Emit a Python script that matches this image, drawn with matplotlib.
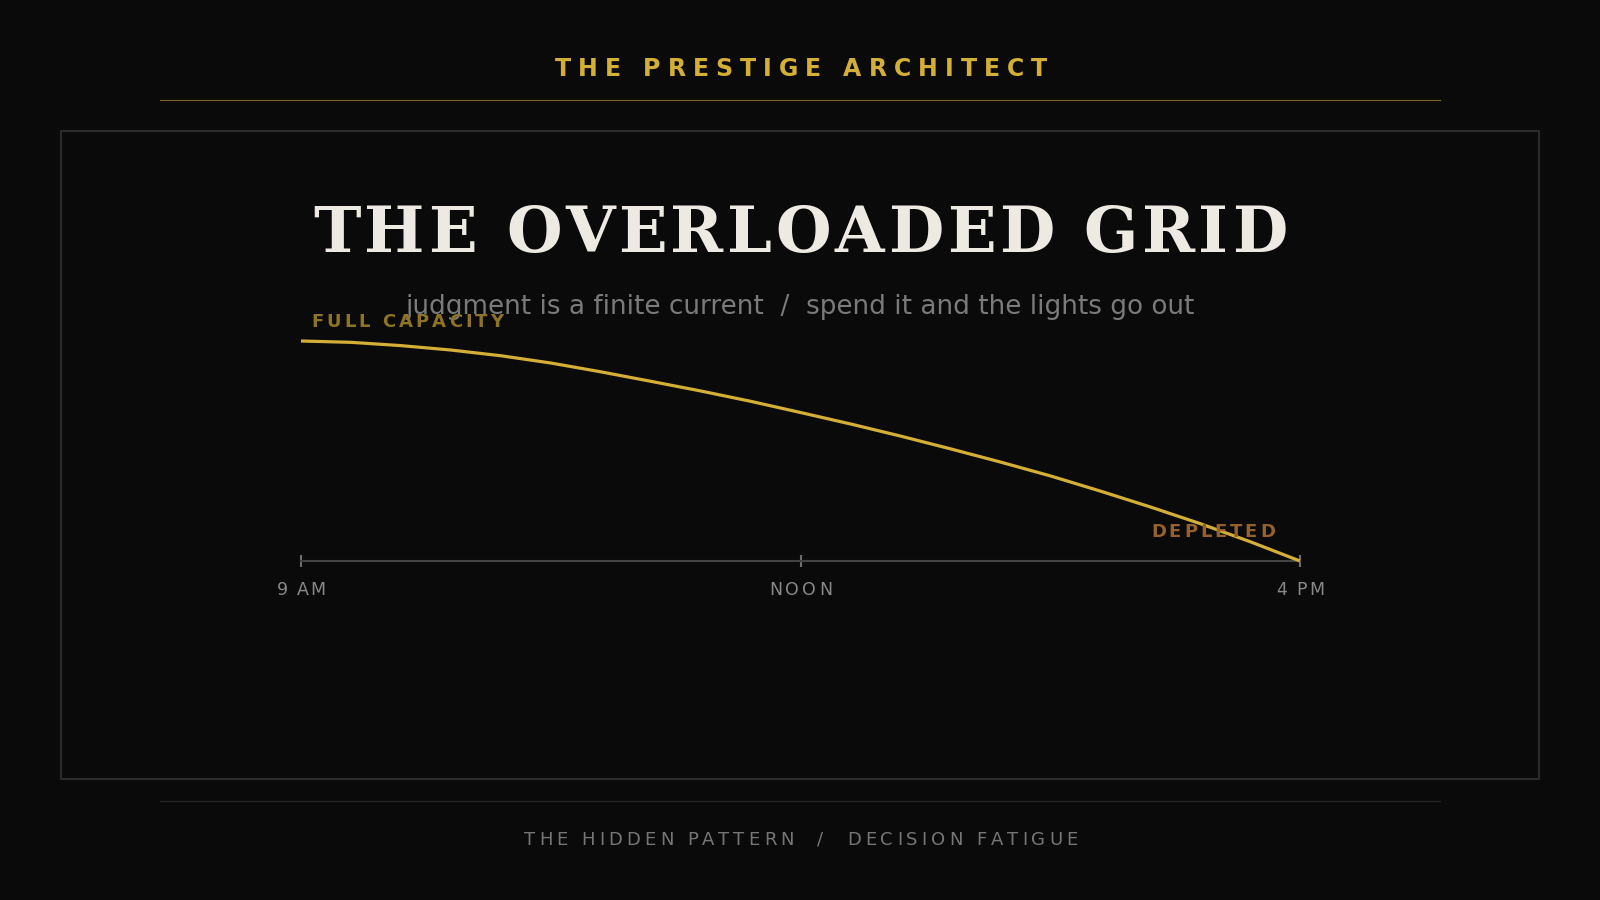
import matplotlib
matplotlib.use("Agg")
import matplotlib.pyplot as plt
from matplotlib import font_manager, ft2font
from matplotlib.patches import Rectangle
from matplotlib.lines import Line2D

W, H, DPI = 1600, 900, 100

# ---- data ----
progress = [0.00, 0.05, 0.10, 0.15, 0.20, 0.25, 0.30, 0.35, 0.40, 0.45, 0.50,
            0.55, 0.60, 0.65, 0.70, 0.75, 0.80, 0.85, 0.90, 0.95, 1.00]
capacity = [100.0, 99.4, 97.9, 95.9, 93.3, 90.0, 86.0, 81.7, 77.3, 72.6, 67.5,
            62.3, 56.8, 51.0, 45.0, 38.7, 31.8, 24.6, 17.0, 8.8, 0.0]
tick_pos = [0.0, 0.5, 1.0]
tick_labels = ["9 AM", "NOON", "4 PM"]

header = "THE PRESTIGE ARCHITECT"
title = "THE OVERLOADED GRID"
subtitle = "judgment is a finite current  /  spend it and the lights go out"
start_label = "FULL CAPACITY"
end_label = "DEPLETED"
footer = "THE HIDDEN PATTERN  /  DECISION FATIGUE"

BG = "#0a0a0a"
GOLD = "#D4AF37"

fig = plt.figure(figsize=(W / DPI, H / DPI), dpi=DPI, facecolor=BG)


def advances(s, family, weight, size):
    path = font_manager.findfont(font_manager.FontProperties(family=family, weight=weight))
    f = ft2font.FT2Font(path)
    f.set_size(size, DPI)
    return [f.load_char(ord(c)).linearHoriAdvance / 65536.0 for c in s]


def tracked(x, y_base, s, size, color, weight="normal", family="DejaVu Sans",
            width=None, track=0.0, ha="center"):
    adv = advances(s, family, weight, size)
    n = len(s)
    if width is not None and n > 1:
        track = (width - sum(adv)) / (n - 1)
    total = sum(adv) + track * (n - 1)
    if ha == "center":
        cur = x - total / 2
    elif ha == "right":
        cur = x - total
    else:
        cur = x
    for c, a in zip(s, adv):
        if c != " ":
            fig.text(cur / W, 1 - y_base / H, c, fontsize=size, color=color,
                     fontweight=weight, family=family, ha="left", va="baseline")
        cur += a + track


# ---- frame & rules ----
fig.add_artist(Rectangle((61 / W, 1 - 779 / H), 1478 / W, 648 / H, transform=fig.transFigure,
                         fill=False, ec="#2a2a2a", lw=1.5))
fig.add_artist(Line2D([160 / W, 1440 / W], [1 - 100 / H] * 2, color="#7d6622", lw=0.8))
fig.add_artist(Line2D([160 / W, 1440 / W], [1 - 801 / H] * 2, color="#262626", lw=0.9))

# ---- texts ----
tracked(801, 76, header, 17, GOLD, weight="bold", width=492)
tracked(800, 252, title, 46, "#ECEAE2", weight="bold", family="DejaVu Serif", width=974)
fig.text(800 / W, 1 - 314 / H, subtitle, fontsize=18.9, color="#7a7a7a",
         family="DejaVu Sans", ha="center", va="baseline")
tracked(801, 845, footer, 13, "#767676", width=554)

# ---- chart ----
ax = fig.add_axes([301 / W, 1 - 561 / H, 999 / W, 220 / H])
ax.set_xlim(0, 1)
ax.set_ylim(0, 100)
ax.patch.set_alpha(0)
ax.plot(progress, capacity, color=GOLD, lw=2.3, clip_on=False, zorder=3,
        solid_capstyle="butt", solid_joinstyle="round")
for side in ("top", "right", "left"):
    ax.spines[side].set_visible(False)
ax.spines["bottom"].set_color("#434343")
ax.spines["bottom"].set_linewidth(1.5)
ax.set_yticks([])
ax.set_xticks(tick_pos)
ax.set_xticklabels([])
ax.tick_params(axis="x", direction="inout", length=9, width=1.5, color="#6e6e6e")

fig.canvas.draw()
tick_widths = [49, 63, 48]
for p, lab, w in zip(tick_pos, tick_labels, tick_widths):
    px = ax.transData.transform((p, 0))[0]
    tracked(px, 595, lab, 12.5, "#888888", width=w)

sx, sy = ax.transData.transform((progress[0], capacity[0]))
tracked(sx + 10, (H - sy) - 14, start_label, 13, "#8C7326", weight="bold", width=192, ha="left")
ex, ey = ax.transData.transform((progress[-1], capacity[-1]))
tracked(ex - 25, (H - ey) - 24, end_label, 13, "#94602C", weight="bold", width=124, ha="right")

fig.savefig("out.png", dpi=DPI, facecolor=BG)
